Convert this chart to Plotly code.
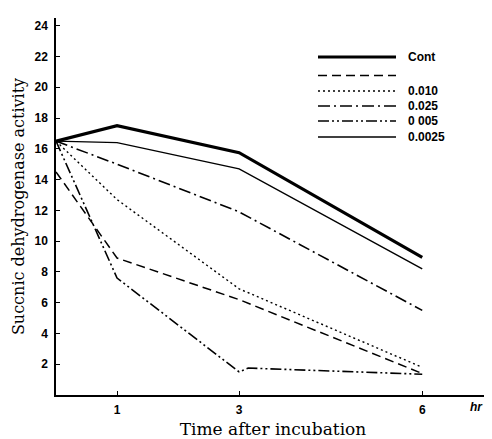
import plotly.graph_objects as go

# ---- data ----
time_hr = [0, 1, 3, 6]
cont = [16.5, 17.5, 15.75, 8.95]
dashed = [14.5, 8.9, 6.2, 1.4]
conc_0010 = [16.5, 12.7, 6.9, 1.8]
conc_0025 = [16.5, 15.0, 11.9, 5.5]
time_0005 = [0, 1, 3, 3.15, 6]
conc_0005 = [16.5, 7.6, 1.5, 1.75, 1.35]
conc_00025 = [16.5, 16.4, 14.7, 8.2]

y_ticks = [2, 4, 6, 8, 10, 12, 14, 16, 18, 20, 22, 24]
x_ticks = [1, 3, 6]

legend_labels = ["Cont", "", "0.010", "0.025", "0 005", "0.0025"]

# ---- styles ----
styles = [
    dict(width=3.2, dash="solid"),
    dict(width=1.5, dash="9px,5px"),
    dict(width=1.4, dash="2px,3px"),
    dict(width=1.6, dash="12px,4px,2px,4px"),
    dict(width=1.6, dash="11px,3px,2px,3px,2px,3px"),
    dict(width=1.4, dash="solid"),
]

series = [
    (time_hr, cont),
    (time_hr, dashed),
    (time_hr, conc_0010),
    (time_hr, conc_0025),
    (time_0005, conc_0005),
    (time_hr, conc_00025),
]

fig = go.Figure()
for (xs, ys), st, name in zip(series, styles, legend_labels):
    fig.add_trace(go.Scatter(x=xs, y=ys, mode="lines", name=name or "dashed",
                             line=dict(color="black", width=st["width"], dash=st["dash"]),
                             showlegend=False))

# page is 492x439 but the html body has an 8px margin
OFF = 8
PAGE_W, PAGE_H = 492, 439
W, H = PAGE_W - OFF, PAGE_H - OFF
# plot area in page pixels: x 56..490, y 18..395
L, R, T, B = 56 - OFF, PAGE_W - 490, 18 - OFF, PAGE_H - 395
pw, ph = W - L - R, H - T - B


def px2paper(xp, yp):
    """page pixel -> paper coords"""
    return (xp - OFF - L) / pw, (H - B - (yp - OFF)) / ph


# manual legend (long line samples as in the original)
rows = [57, 75.5, 91, 106, 121, 137]
for ypix, st, label in zip(rows, styles, legend_labels):
    x0, y0 = px2paper(318, ypix)
    x1, _ = px2paper(396, ypix)
    fig.add_shape(type="line", xref="paper", yref="paper", x0=x0, x1=x1, y0=y0, y1=y0,
                  line=dict(color="black", width=st["width"], dash=st["dash"]))
    if label:
        tx, _ = px2paper(406, ypix)
        fig.add_annotation(x=tx, y=y0, xref="paper", yref="paper", text=label,
                           showarrow=False, xanchor="left", yanchor="middle",
                           font=dict(family="Liberation Sans", size=12, color="black", weight="bold"))

hx, hy = px2paper(476, 407)
fig.add_annotation(x=hx, y=hy, xref="paper", yref="paper", text="<i>hr</i>",
                   showarrow=False, xanchor="center", yanchor="middle",
                   font=dict(family="Liberation Sans", size=12, color="black", weight="bold"))

fig.update_layout(
    width=W, height=H,
    margin=dict(l=L, r=R, t=T, b=B, autoexpand=False),
    paper_bgcolor="white", plot_bgcolor="white",
    showlegend=False,
    font=dict(color="black"),
    xaxis=dict(range=[0, 7.11], tickvals=x_ticks, ticktext=[str(v) for v in x_ticks],
               automargin=False,
               showgrid=False, zeroline=False, showline=True, linecolor="black", linewidth=1.5,
               ticks="inside", ticklen=4, tickcolor="black", ticklabelstandoff=3,
               tickfont=dict(family="Liberation Sans", size=12, color="black", weight="bold"),
               title=dict(text="Time after incubation", standoff=7,
                          font=dict(family="DejaVu Serif", size=17, color="black"))),
    yaxis=dict(range=[0, 24.5], tickvals=y_ticks, ticktext=[str(v) for v in y_ticks],
               automargin=False,
               showgrid=False, zeroline=False, showline=True, linecolor="black", linewidth=1.5,
               ticks="inside", ticklen=4, tickcolor="black", ticklabelstandoff=4,
               tickfont=dict(family="Liberation Sans", size=12, color="black", weight="bold"),
               title=dict(text="Succnic dehydrogenase activity", standoff=6,
                          font=dict(family="DejaVu Serif", size=16, color="black"))),
)

fig.write_html("out.html")
